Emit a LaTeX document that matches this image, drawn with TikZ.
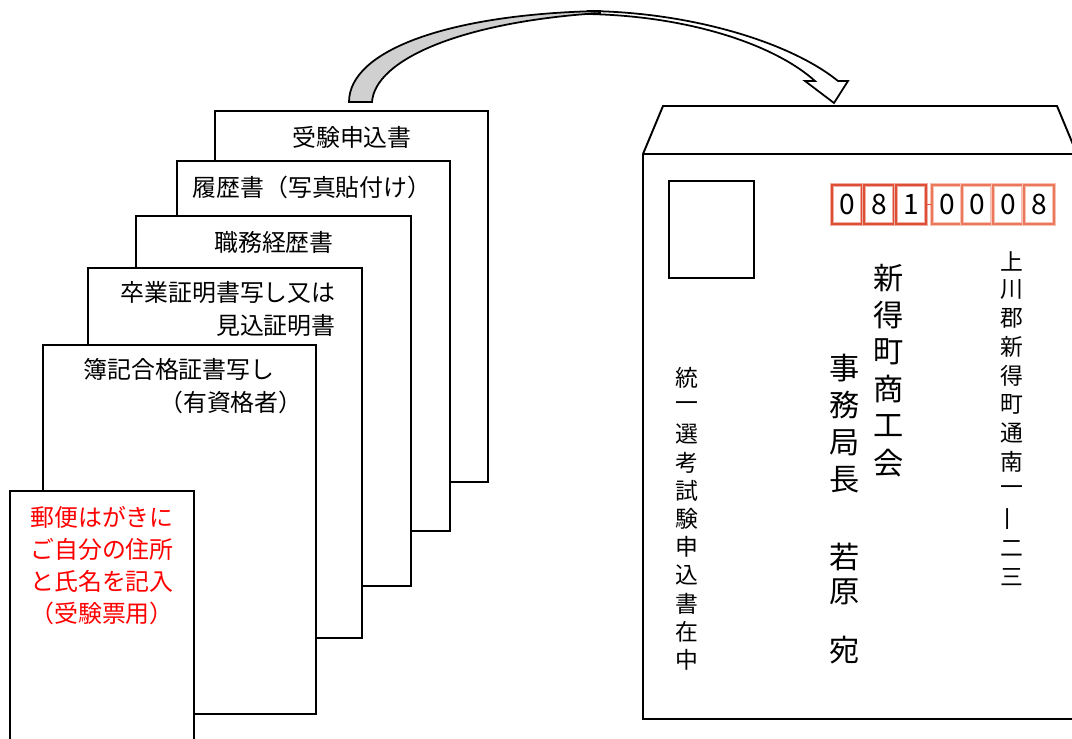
\documentclass[tikz,border=0pt]{standalone}
\usepackage{fontspec}
\setmainfont{Noto Sans CJK JP}
\definecolor{zipdark}{RGB}{222,78,52}
\definecolor{ziplight}{RGB}{236,120,92}
\definecolor{arrowgray}{RGB}{208,208,208}
\begin{document}
\begin{tikzpicture}[x=0.02cm, y=-0.02cm, line join=miter,
   paper/.style={draw, fill=white, line width=1.1pt},
   doc/.style={font=\fontsize{13.6pt}{16pt}\selectfont, inner sep=0pt},
   zipbox/.style={draw=#1, line width=0.8pt, preaction={draw=#1!45, line width=2.4pt},
      minimum width=0.6cm, minimum height=0.78cm, inner sep=0pt, font=\fontsize{16pt}{18pt}\selectfont},
   vsmall/.style={font=\fontsize{13pt}{15pt}\selectfont, inner sep=0pt},
   vbig/.style={font=\fontsize{17.2pt}{20pt}\selectfont, inner sep=0pt}]
\useasboundingbox (0,0) rectangle (1072,738);
\clip (0,0) rectangle (1072,738);
\draw[paper] (215,111) rectangle (488,482);
\node[doc] (apply) at (352,137) {受験申込書};
\draw[paper] (177,161) rectangle (450,531);
\node[doc] (resume) at (312,187) {履歴書（写真貼付け）};
\draw[paper] (136,216) rectangle (411,586);
\node[doc] (career) at (274,242) {職務経歴書};
\draw[paper] (88,268) rectangle (362,638);
\node[doc, anchor=east] (grad1) at (336,292) {卒業証明書写し又は};
\node[doc, anchor=east] (grad2) at (336,325) {見込証明書};
\draw[paper] (43,345) rectangle (316,714);
\node[doc, anchor=west] (boki1) at (83,369) {簿記合格証書写し};
\node[doc, anchor=east] (boki2) at (303,402) {（有資格者）};
\draw[paper] (10,491) rectangle (194,760);
\foreach \t [count=\i] in {郵便はがきに,ご自分の住所,と氏名を記入,（受験票用）}
   \node[doc, text=red] (note\i) at (102,485+32*\i) {\t};
\filldraw[fill=white, line width=1pt] (588,11) .. controls (690,12) and (790,42) .. (838,81)
   -- (848,81) -- (834,103) -- (805,81) -- (815,81)
   .. controls (775,45) and (690,16) .. (588,14) -- cycle;
\filldraw[fill=arrowgray, line width=1pt] (349,102) .. controls (349,50) and (450,14) .. (600,11)
   -- (600,13) .. controls (460,22) and (375,60) .. (372,102) -- cycle;
\draw[line width=1.1pt] (1080,719) -- (643,719) -- (643,154) -- (663,106) -- (1057,106) -- (1077,154);
\draw[line width=1.1pt] (643,154) -- (1080,154);
\draw[line width=0.9pt] (669,181) rectangle (754,278);
\foreach \x/\d/\c [count=\i] in {847/0/zipdark,879/8/zipdark,911/1/zipdark,947/0/ziplight,977/0/ziplight,1008/0/ziplight,1039/8/ziplight}
   \node[zipbox=\c] (zip\i) at (\x,204.5) {\d};
\draw[zipdark, line width=1pt] (zip3.east) -- (zip4.west);
\foreach \c [count=\i] in {上,川,郡,新,得,町,通,南,一}
   \node[vsmall] (addr\i) at (1012,261+28.7*\i-28.7) {\c};
\node[vsmall, rotate=90] (addr10) at (1012,519) {一};
\node[vsmall] (addr11) at (1012,549) {二};
\node[vsmall] (addr12) at (1012,577) {三};
\foreach \c [count=\i] in {新,得,町,商,工,会}
   \node[vbig] (office\i) at (889,278+37*\i-37) {\c};
\foreach \c/\y [count=\i] in {事/368,務/405,局/443,長/480,若/557,原/592,宛/650}
   \node[vbig] (name\i) at (845,\y) {\c};
\foreach \c [count=\i] in {統,一,選,考,試,験,申,込,書,在,中}
   \node[vsmall] (inside\i) at (687,378+28.2*\i-28.2) {\c};
\end{tikzpicture}
\end{document}
